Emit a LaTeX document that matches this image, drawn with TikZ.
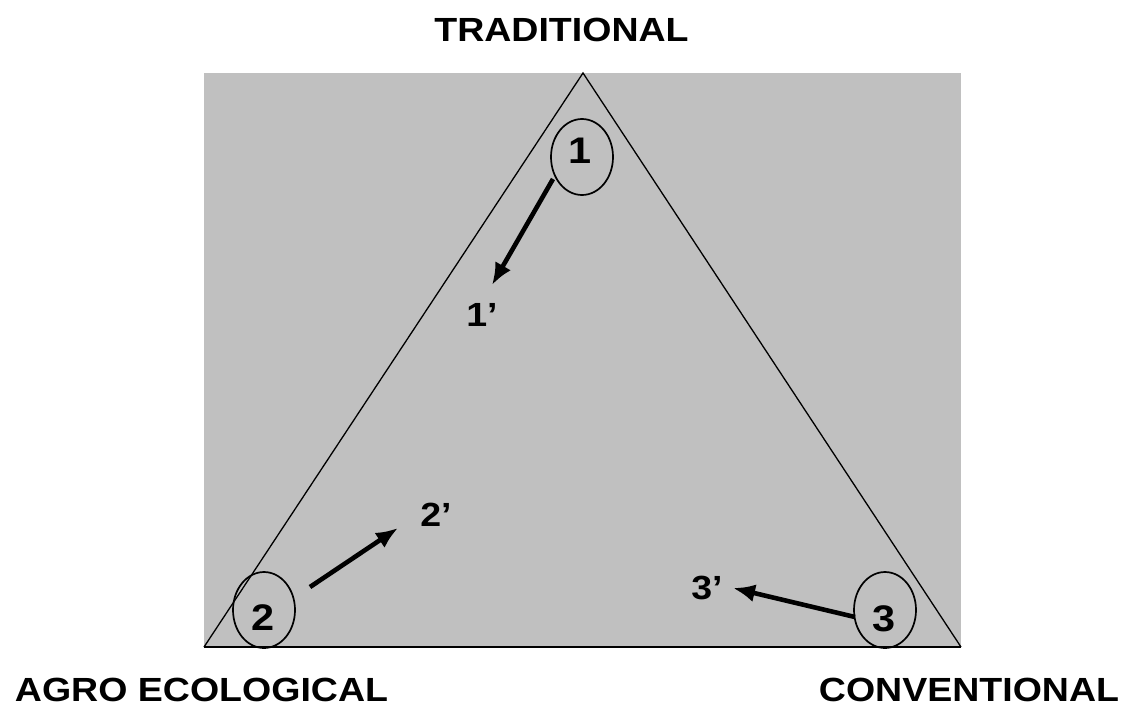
\documentclass[tikz,border=0pt]{standalone}
\usepackage{fontspec}
\setmainfont{Liberation Sans}[FakeStretch=1.12]
\usetikzlibrary{arrows.meta,shapes.geometric}
\definecolor{bggray}{RGB}{192,192,192}
\begin{document}
\begin{tikzpicture}[x=1pt,y=-1pt,
  lbl/.style={inner sep=0pt,anchor=base,font=\fontsize{33.5}{40}\selectfont\bfseries},
  num/.style={inner sep=0pt,anchor=base,font=\fontsize{37}{44}\selectfont\bfseries},
  marker/.style={draw,line width=1.7pt,ellipse,minimum width=62pt,minimum height=76pt,inner sep=0pt},
  move/.style={line width=4.6pt,-{Latex[length=22pt,width=18pt]}},
  edge/.style={line width=1.3pt}]
\useasboundingbox (0,0) rectangle (1122,713);
\fill[bggray] (204,73) rectangle (961,647);
\coordinate (apex) at (583,73);
\coordinate (bl) at (204,647);
\coordinate (br) at (961,647);
\draw[edge] (bl) -- (apex) -- (br);
\draw[line width=2.4pt] (bl) -- (br);
% circles
\node[marker] (c1) at (582,157) {};
\node[marker] (c2) at (264,610) {};
\node[marker] (c3) at (885,610) {};
\node[num] (n1) at (580,163) {1};
\node[num] (n2) at (263.5,630) {2};
\node[num] (n3) at (884,631.5) {3};
% corner labels
\node[lbl] (trad) at (561.5,41) {TRADITIONAL};
\node[lbl] (agro) at (201.5,701.5) {AGRO ECOLOGICAL};
\node[lbl] (conv) at (969,701.5) {CONVENTIONAL};
% primed labels
\node[lbl] (p1) at (482,326.5) {1’};
\node[lbl] (p2) at (436,526.5) {2’};
\node[lbl] (p3) at (707,599) {3’};
% arrows
\coordinate (a1s) at (553,179);
\coordinate (a1e) at (492,285);
\coordinate (a2s) at (310,587);
\coordinate (a2e) at (398,528);
\coordinate (a3s) at (855,617);
\coordinate (a3e) at (733,588);
\draw[move] (a1s) -- (a1e);
\draw[move] (a2s) -- (a2e);
\draw[move] (a3s) -- (a3e);
\end{tikzpicture}
\end{document}
